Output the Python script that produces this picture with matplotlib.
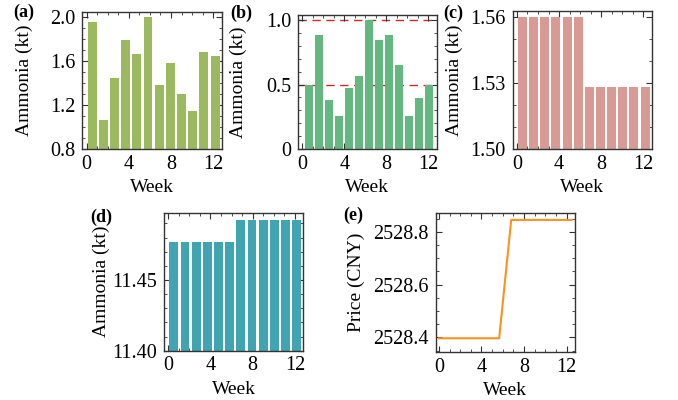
import numpy as np
import matplotlib
matplotlib.use('Agg')
from matplotlib import pyplot as plt
from matplotlib.ticker import MultipleLocator

plt.rcParams['font.family'] = ['Liberation Serif', 'DejaVu Serif']
plt.rcParams['font.size'] = 14
plt.rcParams['axes.edgecolor'] = '#333333'

# data
ammonia_a = [1.955, 1.064, 1.442, 1.793, 1.658, 2.0, 1.385, 1.577, 1.298, 1.142, 1.676, 1.640]
ammonia_b = [0.50, 0.884, 0.378, 0.257, 0.476, 0.567, 1.0, 0.846, 0.884, 0.652, 0.257, 0.393, 0.50]
ammonia_c = [1.56, 1.56, 1.56, 1.56, 1.56, 1.56, 1.5282, 1.5282, 1.5282, 1.5282, 1.5282, 1.5282]
ammonia_d = [11.4767, 11.4767, 11.4767, 11.4767, 11.4767, 11.4767,
             11.4924, 11.4924, 11.4924, 11.4924, 11.4924, 11.4924]
price_e = [2528.397, 2528.397, 2528.397, 2528.397, 2528.397, 2528.397,
           2528.845, 2528.845, 2528.845, 2528.845, 2528.845, 2528.845]
week_ticks = [0, 4, 8, 12]
b_limits = [0.5, 1.0]


def style(ax, ylim, ymajor, yminor, ylabel, label_x):
    ax.set_xlim(-0.4, 12.8)
    ax.set_ylim(*ylim)
    ax.set_xticks(week_ticks)
    ax.xaxis.set_minor_locator(MultipleLocator(1))
    ax.yaxis.set_major_locator(MultipleLocator(ymajor))
    ax.yaxis.set_minor_locator(MultipleLocator(yminor))
    ax.tick_params(which='both', direction='in', top=True, right=True, color='#333333',
                   labelsize=14.5)
    ax.tick_params(which='major', length=4, width=0.8)
    ax.tick_params(which='minor', length=2, width=0.6)
    ax.tick_params(axis='x', pad=4)
    ax.tick_params(axis='y', pad=5)
    ax.set_xlabel('Week', labelpad=4)
    ax.set_ylabel(ylabel)
    ax.yaxis.set_label_coords(label_x, 0.5)
    for s in ax.spines.values():
        s.set_linewidth(1.0)


def bars(ax, vals, color, span=12.7, start=0.0):
    n = len(vals)
    slot = span / n
    x = start + (np.arange(n) + 0.5) * slot
    ax.bar(x, vals, width=0.8 * slot, color=color, zorder=2)


fig = plt.figure(figsize=(6.78, 4.0), dpi=100)

ax_a = fig.add_axes([0.1214, 0.6268, 0.2056, 0.344])
bars(ax_a, ammonia_a, '#9bb95f')
style(ax_a, (0.8, 2.045), 0.4, 0.1, 'Ammonia (kt)', -0.355)
ax_a.set_yticks([0.8, 1.2, 1.6, 2.0])

ax_b = fig.add_axes([0.4395, 0.6275, 0.2046, 0.3343])
bars(ax_b, ammonia_b, '#63b77f', span=12.3, start=0.2)
for lim in b_limits:
    ax_b.axhline(lim, color='#cc2a2a', linestyle=(0, (6, 4)), linewidth=1.0, zorder=1)
style(ax_b, (0, 1.038), 0.5, 0.1, 'Ammonia (kt)', -0.364)
ax_b.set_yticks([0, 0.5, 1.0])
ax_b.set_yticklabels(['0', '0.5', '1.0'])

ax_c = fig.add_axes([0.7562, 0.6268, 0.205, 0.3458])
bars(ax_c, ammonia_c, '#d99a94')
style(ax_c, (1.50, 1.5626), 0.03, 0.01, 'Ammonia (kt)', -0.36)
ax_c.set_yticks([1.50, 1.53, 1.56])
ax_c.set_yticklabels(['1.50', '1.53', '1.56'])

ax_d = fig.add_axes([0.2419, 0.1233, 0.2055, 0.345])
bars(ax_d, ammonia_d, '#40a5b0')
style(ax_d, (11.40, 11.4976), 0.05, 0.01, 'Ammonia (kt)', -0.39)
ax_d.set_yticks([11.40, 11.45])
ax_d.set_yticklabels(['11.40', '11.45'])

ax_e = fig.add_axes([0.6426, 0.1193, 0.2055, 0.3475])
weeks_e = np.arange(len(price_e)) * 12.47 / (len(price_e) - 1)
ax_e.plot(weeks_e, price_e, color='#f7931e', linewidth=1.5)
style(ax_e, (2528.344, 2528.87), 0.2, 0.05, 'Price (CNY)', -0.51)
ax_e.set_xlim(-0.3, 12.8)
ax_e.set_yticks([2528.4, 2528.6, 2528.8])
ax_e.set_yticklabels(['2528.4', '2528.6', '2528.8'])

panel_labels = [('(a)', 13, 12.7), ('(b)', 230, 13), ('(c)', 443, 13), ('(d)', 90, 217), ('(e)', 343, 215)]
for lab, px, py in panel_labels:
    fig.text(px / 678, 1 - py / 400, lab, fontweight='bold', fontsize=13, va='center', ha='left')

fig.savefig('out.png', dpi=100)
